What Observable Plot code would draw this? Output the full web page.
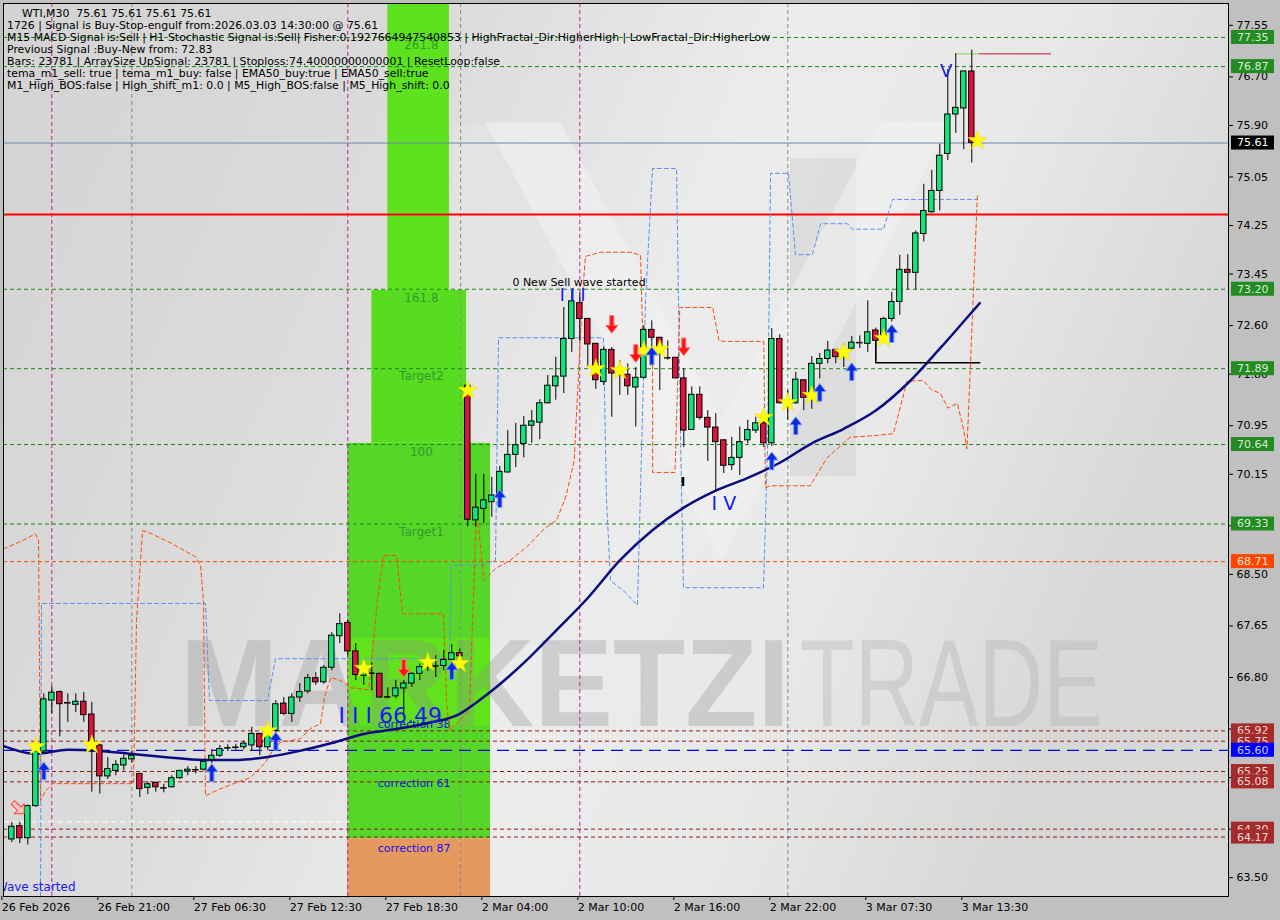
<!DOCTYPE html>
<html><head><meta charset="utf-8">
<script src="https://cdn.jsdelivr.net/npm/d3@7"></script>
<script src="https://cdn.jsdelivr.net/npm/@observablehq/plot@0.6"></script>
<style>
html,body{margin:0;padding:0;background:#c0c0c0;}
#chart{width:1280px;height:920px;}
</style></head><body><div id="chart"></div>
<script>
// ---------- DATA ----------
const opens  = [64.13,64.35,64.15,64.68,65.58,66.42,66.56,66.37,66.35,66.40,66.19,65.68,65.17,65.26,65.35,65.45,65.21,64.98,65.06,64.98,64.99,65.14,65.25,65.28,65.28,65.44,65.51,65.64,65.65,65.65,65.68,65.87,65.65,65.92,66.37,66.20,66.47,66.57,66.79,66.72,66.96,67.48,67.70,67.23,66.83,66.87,66.86,66.48,66.49,66.62,66.70,66.86,66.97,66.99,66.99,67.09,67.20,71.61,69.39,69.58,69.69,69.78,70.18,70.47,70.65,70.95,71.00,71.32,71.60,71.76,72.38,72.97,72.71,72.30,71.67,72.20,71.84,71.79,71.58,71.74,72.53,72.40,72.07,72.07,71.73,70.88,71.46,71.08,70.92,70.71,70.30,70.42,70.71,70.87,70.99,70.66,72.38,71.32,71.32,71.70,71.42,71.97,72.05,72.20,72.12,72.22,72.32,72.30,72.52,72.44,72.71,72.99,73.52,73.47,74.11,74.47,74.82,75.43,76.08,76.18,76.79];
const highs  = [64.41,64.41,64.70,65.63,66.53,66.65,66.58,66.53,66.53,66.55,66.39,65.70,65.48,65.43,65.53,65.59,65.22,65.08,65.08,65.04,65.18,65.27,65.33,65.33,65.45,65.61,65.68,65.69,65.70,65.75,65.98,65.88,65.93,66.42,66.47,66.53,66.70,66.85,66.88,67.00,67.54,67.85,67.74,67.36,67.08,67.04,66.87,66.63,66.75,66.75,66.88,67.02,67.10,67.16,67.25,67.34,67.27,71.65,70.15,70.15,70.10,70.28,70.87,70.99,71.10,71.20,71.38,71.78,72.08,72.90,73.18,73.13,72.72,72.30,72.24,72.24,72.02,71.97,71.91,72.60,72.68,72.40,72.35,72.07,71.89,71.59,71.59,71.20,71.15,70.71,70.76,70.93,71.04,71.09,71.15,72.55,72.45,71.53,71.83,71.70,72.09,72.14,72.34,72.21,72.30,72.42,72.43,73.01,72.56,72.74,73.15,73.76,73.77,74.16,74.93,75.16,75.59,76.82,77.08,76.79,77.14];
const lows   = [64.08,64.06,64.04,64.66,65.55,66.20,65.82,66.06,66.22,66.06,64.91,64.88,65.12,65.18,65.26,65.39,64.82,64.87,64.91,64.90,64.98,65.12,65.18,65.21,65.26,65.38,65.48,65.58,65.60,65.61,65.59,65.51,65.59,65.87,66.17,66.06,66.39,66.53,66.67,66.69,66.91,67.36,67.16,66.75,66.67,66.58,66.46,66.45,66.45,66.14,66.64,66.75,66.90,66.80,66.91,66.97,67.02,69.28,69.28,69.34,69.44,69.72,70.17,70.26,70.42,70.66,70.72,71.31,71.37,71.48,72.16,72.35,71.91,71.55,71.61,71.09,71.45,71.45,70.93,71.72,72.24,71.53,72.03,71.73,70.59,70.87,71.04,70.36,69.88,70.16,70.21,70.13,70.65,70.82,70.59,70.61,71.31,71.04,71.31,71.20,71.22,71.72,71.97,71.97,71.91,72.19,72.22,72.16,72.01,72.35,72.66,72.77,73.19,73.19,73.98,74.45,74.49,75.32,75.77,75.50,75.28];
const closes = [64.34,64.15,64.68,65.58,66.44,66.55,66.36,66.38,66.40,66.18,65.68,65.17,65.29,65.36,65.46,65.51,64.96,65.04,64.99,64.98,65.14,65.26,65.28,65.28,65.41,65.51,65.62,65.64,65.65,65.71,65.87,65.65,65.87,66.36,66.20,66.47,66.56,66.79,66.72,66.96,67.49,67.68,67.23,66.84,66.95,66.87,66.47,66.48,66.62,66.70,66.86,66.97,66.99,66.99,67.09,67.20,67.15,69.40,69.60,69.72,69.80,70.19,70.47,70.63,70.95,71.02,71.32,71.61,71.76,72.38,73.00,72.71,72.29,71.70,72.20,71.81,71.81,71.60,71.74,72.53,72.40,72.14,72.07,71.73,70.87,71.46,71.08,70.92,70.68,70.29,70.42,70.68,70.88,70.99,70.66,72.38,71.32,71.35,71.71,71.41,71.97,72.05,72.19,72.08,72.15,72.32,72.32,72.49,72.35,72.71,72.99,73.52,73.47,74.12,74.49,74.82,75.40,76.08,76.19,76.79,75.61];

// EMA (bar index, value)
const emaBars = [-1,3,7,11,15,19,24,28,32,36,40,44,48,52,56,58,60,64,68,72,76,80,84,88,92,96,100,104,108,112,116,120,121];
const emaVals = [65.67,65.54,65.61,65.59,65.54,65.49,65.44,65.44,65.49,65.59,65.72,65.87,65.95,66.05,66.20,66.38,66.58,67.04,67.57,68.11,68.73,69.22,69.60,69.88,70.09,70.34,70.66,70.90,71.20,71.65,72.22,72.82,72.97];

// x-axis ticks (bar index -> label)
const xTickBars   = [-1,11,23,35,47,59,71,83,95,107,119];
const xTickLabels = ["26 Feb 2026","26 Feb 21:00","27 Feb 06:30","27 Feb 12:30","27 Feb 18:30","2 Mar 04:00","2 Mar 10:00","2 Mar 16:00","2 Mar 22:00","3 Mar 07:30","3 Mar 13:30"];
// y-axis ticks
const yTicks = [77.55,76.70,75.90,75.05,74.25,73.45,72.60,71.80,70.95,70.15,69.30,68.50,67.65,66.80,65.95,65.15,64.30,63.50];

// level lines
const greenLevels = [77.35,76.87,73.20,71.89,70.64,69.33];
const brownLevels = [65.92,65.75,65.25,65.08,64.30,64.17];
const stopLevel = 74.43;
const bidLevel = 75.61;
const orangeLevel = 68.71;
const blueLevel = 65.60;

// right price boxes
const boxValues = [77.35,76.87,75.61,73.20,71.89,70.64,69.33,68.71,65.92,65.75,65.60,65.25,65.08,64.30,64.17];
const boxKinds  = ["g","g","k","g","g","g","g","o","b","b","u","b","b","b","b"];

// vertical separators (bar index)
const magentaBars = [5,42,71];
const grayBars = [15,56.1,97];

// fibo zones [bar1, bar2, price1, price2]
const fibZoneBars1 = [47,45,42,42];
const fibZoneBars2 = [54.7,56.85,59.85,59.85];
const fibZoneLow   = [73.18,70.66,64.14,63.0];
const fibZoneHigh  = [78.5,73.18,70.66,64.14];
const fibZoneFill  = ["#5ce21e","#58dc20","#55d628","#e5995f"];
const fibLabelText = ["261.8","161.8","Target2","100","Target1"];
const fibLabelPrice= [77.22,73.06,71.76,70.51,69.19];
const corrLabelText = ["correction 38","correction 61","correction 87"];
const corrLabelPrice= [66.02,65.05,63.98];

// markers
const starBars  = [3,10,32,44,52,56,57,73,76,79,81,94,97,100,104,109,120.7];
const starPrice = [65.66,65.69,65.92,66.95,67.05,67.03,71.53,71.89,71.86,72.19,72.21,71.09,71.33,71.45,72.16,72.39,75.65];
const upBars  = [4,25,33,55,61,80,95,98,101,105,110];
const upPrice = [65.26,65.23,65.75,66.91,69.75,72.10,70.37,70.95,71.50,71.84,72.47];
const dnBars  = [49,75,78,84];
const dnPrice = [66.95,72.62,72.14,72.25];

// wave labels
const waveText  = ["I I I","I V","V","I I I 66.49"];
const waveBars  = [70.1,89.0,116.8,47.3];
const wavePrice = [73.10,69.66,76.80,66.16];
const waveSize  = [17,19,18,22];

// indicator bands (bar index, price)
const orangeBandBars = [-1.04,1.09,2.96,3.34,3.59,4.21,5.09,15.21,15.59,16.34,16.96,19.84,22.96,23.59,23.96,24.21,25.46,27.71,29.84,31.71,32.59,33.59,36.09,37.34,38.59,39.09,39.84,41.09,42.34,44.59,45.09,45.71,46.46,48.09,48.84,53.96,54.34,54.71,57.2,57.6,58.1,59.0,60.5,62.3,64.5,66.7,68.1,69.3,70.3,70.8,71.3,71.7,73.6,77.4,78.6,78.9,80.1,80.1,82.9,83.5,83.6,87.6,88.4,89.1,94.0,94.2,94.8,99.8,101.9,104.8,108.2,110.2,111.9,113.9,114.9,116.1,117.0,118.2,119.0,119.4,120.7];
const orangeBandVals = [68.92,69.04,69.17,69.06,64.77,64.93,65.05,65.05,67.74,69.22,69.20,69.02,68.79,68.64,68.07,64.85,64.93,65.05,65.15,65.40,65.59,65.73,65.79,65.96,66.04,66.47,66.80,66.75,66.63,66.60,67.24,68.07,68.81,68.81,67.85,67.85,66.42,65.92,66.25,67.74,69.60,68.40,68.60,68.73,68.97,69.27,69.39,69.80,70.38,71.70,73.01,73.74,73.81,73.81,73.76,72.20,72.20,70.18,70.18,72.90,72.90,72.90,72.35,72.34,72.34,69.93,69.96,69.96,70.42,70.76,70.79,70.82,71.68,71.70,71.55,71.48,71.24,71.32,70.87,70.57,74.75];
const blueBandBars = [3.59,3.71,24.21,24.71,31.96,32.96,54.71,54.96,58.59,60.46,60.84,73.96,74.34,74.84,76.71,78.21,79.21,80.09,83.09,83.59,83.96,93.96,94.46,94.84,97.09,97.96,100.09,101.09,104.46,105.09,108.96,110.09,120.71];
const blueBandVals = [63.19,68.02,68.02,66.42,66.42,67.11,67.11,68.65,68.65,68.73,72.40,72.40,69.72,68.40,68.20,67.99,73.01,75.19,75.19,70.76,68.28,68.28,70.54,75.11,75.11,73.77,73.77,74.28,74.28,74.19,74.19,74.68,74.68];

// header text
const headerTitle = "WTI,M30  75.61 75.61 75.61 75.61";
const headerLines = [
 "1726 | Signal is Buy-Stop-engulf from:2026.03.03 14:30:00 @ 75.61",
 "M15 MACD Signal is:Sell | H1 Stochastic Signal is:Sell| Fisher:0.1927664947540853 | HighFractal_Dir:HigherHigh | LowFractal_Dir:HigherLow",
 "Previous Signal :Buy-New from: 72.83",
 "Bars: 23781 | ArraySize UpSignal: 23781 | Stoploss:74.40000000000001 | ResetLoop:false",
 "tema_m1_sell: true | tema_m1_buy: false | EMA50_buy:true | EMA50_sell:true",
 "M1_High_BOS:false | High_shift_m1: 0.0 | M5_High_BOS:false | M5_High_shift: 0.0"
];

// ---------- BUILD ----------
const FONT = "DejaVu Sans";
const candles = opens.map((o,i)=>({i,o,h:highs[i],l:lows[i],c:closes[i]}));
const bodies = candles.filter(d=>d.o!==d.c);
const dojis = candles.filter(d=>d.o===d.c);
const ema = emaBars.map((b,k)=>({i:b,p:emaVals[k]}));
const zones = fibZoneBars1.map((b,k)=>({x1:b,x2:fibZoneBars2[k],y1:fibZoneLow[k],y2:fibZoneHigh[k],f:fibZoneFill[k]}));
const stars = starBars.map((b,k)=>({i:b,p:starPrice[k]}));
const ups = upBars.map((b,k)=>({i:b,p:upPrice[k]}));
const dns = dnBars.map((b,k)=>({i:b,p:dnPrice[k]}));
const waves = waveText.map((t,k)=>({t,i:waveBars[k],p:wavePrice[k],s:waveSize[k]}));
const orangeBand = orangeBandBars.map((b,k)=>({i:b,p:orangeBandVals[k]}));
const blueBand = blueBandBars.map((b,k)=>({i:b,p:blueBandVals[k]}));
const fibLabels = fibLabelText.map((t,k)=>({t,p:fibLabelPrice[k]}));
const corrLabels = corrLabelText.map((t,k)=>({t,p:corrLabelPrice[k]}));
const tickLabelMap = new Map(xTickBars.map((b,k)=>[b,xTickLabels[k]]));
const boxColors = {g:["#228b22","#d8ecd8"],k:["#000000","#ffffff"],o:["#ff4500","#ffe8d8"],b:["#a52a2a","#f0d8d8"],u:["#0000ff","#c8c8ff"]};

const arrowUp = {draw(ctx,size){const s=Math.sqrt(size);const h=s*0.72,w=s*0.5,sw=s*0.17;
  ctx.moveTo(0,-h);ctx.lineTo(w,-h*0.1);ctx.lineTo(sw,-h*0.1);ctx.lineTo(sw,h);ctx.lineTo(-sw,h);ctx.lineTo(-sw,-h*0.1);ctx.lineTo(-w,-h*0.1);ctx.closePath();}};
const arrowDn = {draw(ctx,size){const s=Math.sqrt(size);const h=s*0.72,w=s*0.5,sw=s*0.17;
  ctx.moveTo(0,h);ctx.lineTo(w,h*0.1);ctx.lineTo(sw,h*0.1);ctx.lineTo(sw,-h);ctx.lineTo(-sw,-h);ctx.lineTo(-sw,h*0.1);ctx.lineTo(-w,h*0.1);ctx.closePath();}};

function background(index, scales, values, dims){
  const g = d3.create("svg:g");
  const defs = g.append("defs");
  const lg = defs.append("linearGradient").attr("id","bgGrad").attr("x1","0").attr("x2","1").attr("y1","0").attr("y2","0.3");
  [["0%","#d3d3d3"],["35%","#dcdcdc"],["60%","#ececec"],["80%","#e8e8e8"],["100%","#d8d8d8"]].forEach(([o,c])=>lg.append("stop").attr("offset",o).attr("stop-color",c));
  const x0=dims.marginLeft, y0=dims.marginTop, w=dims.width-dims.marginLeft-dims.marginRight, h=dims.height-dims.marginTop-dims.marginBottom;
  g.append("rect").attr("x",x0).attr("y",y0).attr("width",w).attr("height",h).attr("fill","url(#bgGrad)");
  g.append("rect").attr("x",452).attr("y",125).attr("width",108).attr("height",520).attr("fill","#e6e6e6").attr("opacity",0.55);
  g.append("rect").attr("x",790).attr("y",158).attr("width",66).attr("height",318).attr("fill","#cfcfcf").attr("opacity",0.45);
  g.append("path").attr("d","M485,122 L560,122 L722,420 L880,122 L950,122 L722,560 Z").attr("fill","#f4f4f4").attr("opacity",0.5);
  return g.node();
}
function watermark(index, scales, values, dims){
  const g = d3.create("svg:g").attr("text-anchor","start");
  g.append("text").attr("x",180).attr("y",726).attr("font-family","Liberation Sans").attr("font-weight","bold").attr("font-size",124)
    .attr("textLength",610).attr("lengthAdjust","spacingAndGlyphs").attr("fill","#8c8c8c").attr("opacity",0.3).text("MARKETZI");
  g.append("text").attr("x",800).attr("y",726).attr("font-family","Liberation Sans").attr("font-size",124)
    .attr("textLength",303).attr("lengthAdjust","spacingAndGlyphs").attr("fill","#a8a8a8").attr("opacity",0.3).text("TRADE");
  return g.node();
}
function header(index, scales, values, dims){
  const g = d3.create("svg:g").attr("font-family",FONT).attr("font-size",10.9).attr("fill","#000").attr("text-anchor","start");
  g.append("text").attr("x",22).attr("y",17).text(headerTitle);
  headerLines.forEach((t,k)=>g.append("text").attr("x",7).attr("y",29+12*k).text(t));
  return g.node();
}
function priceBoxes(index, scales, values, dims){
  const g = d3.create("svg:g").attr("font-family",FONT).attr("font-size",11).attr("text-anchor","start");
  boxValues.forEach((v,k)=>{
    const yy = scales.y(v), [bg,fg] = boxColors[boxKinds[k]];
    g.append("rect").attr("x",1231).attr("y",yy-7).attr("width",43).attr("height",14).attr("fill",bg);
    g.append("text").attr("x",1237).attr("y",yy).attr("dy","0.36em").attr("fill",fg).text(v.toFixed(2));
  });
  return g.node();
}
function outlineArrow(index, scales){
  const g = d3.create("svg:g");
  const cx = scales.x(0.9), cy = scales.y(64.64);
  g.append("path").attr("transform",`translate(${cx},${cy}) rotate(-45)`)
   .attr("d","M0,8 L7,1 L2.5,1 L2.5,-8 L-2.5,-8 L-2.5,1 L-7,1 Z").attr("fill","#f4c8c0").attr("stroke","#ff4040").attr("stroke-width",1);
  return g.node();
}

const chart = Plot.plot({
  width:1280, height:920,
  marginLeft:3, marginRight:52, marginTop:3, marginBottom:24,
  style:{fontFamily:FONT, fontSize:"11px", background:"#c0c0c0", color:"#000"},
  x:{type:"linear", domain:[-1.04,152.09]},
  y:{type:"linear", domain:[63.19,77.91]},
  marks:[
    background,
    Plot.rect(zones,{x1:"x1",x2:"x2",y1:"y1",y2:"y2",fill:"f",clip:true}),
    Plot.rect([0],{x1:42,x2:59.85,y1:66.0,y2:67.45,fill:"#6aee10",opacity:0.55,clip:true}),
    watermark,
    Plot.text(fibLabels,{x:51.2,y:"p",text:"t",fill:"#2f8f2f",fontSize:12,opacity:0.85}),
    Plot.text(corrLabels,{x:50.3,y:"p",text:"t",fill:"#1414e6",fontSize:11}),
    Plot.ruleX(magentaBars,{stroke:"#c0209a",strokeDasharray:"4,3",strokeWidth:1}),
    Plot.ruleX(grayBars,{stroke:"#8a8a8a",strokeDasharray:"4,3",strokeWidth:1}),
    Plot.ruleY(greenLevels,{stroke:"#178a17",strokeDasharray:"4,3"}),
    Plot.ruleY(brownLevels,{stroke:"#8e1c1c",strokeDasharray:"4,3"}),
    Plot.ruleY([orangeLevel],{stroke:"#ff4500",strokeDasharray:"4,3"}),
    Plot.ruleY([blueLevel],{stroke:"#0000ee",strokeDasharray:"12,7",strokeWidth:1.3}),
    Plot.ruleY([64.42],{x1:-1.04,x2:42.3,stroke:"#ffffff",strokeDasharray:"6,3"}),
    Plot.ruleY([bidLevel],{stroke:"#6f87a3"}),
    Plot.ruleY([stopLevel],{stroke:"#ff0000",strokeWidth:2}),
    Plot.line(blueBand,{x:"i",y:"p",stroke:"#5b8ff0",strokeDasharray:"4,3",strokeWidth:1,clip:true}),
    Plot.line(orangeBand,{x:"i",y:"p",stroke:"#ff4a0a",strokeDasharray:"4,3",strokeWidth:1,clip:true}),
    Plot.line(ema,{x:"i",y:"p",stroke:"#0b0b82",strokeWidth:2.5,curve:"monotone-x",clip:true}),
    Plot.line([{i:108,p:72.35},{i:108,p:71.99},{i:121,p:71.99}],{x:"i",y:"p",stroke:"#000"}),
    Plot.ruleY([77.08],{x1:117.96,x2:120.96,stroke:"#7fdc3c"}),
    Plot.ruleY([77.08],{x1:120.96,x2:129.96,stroke:"#d0103a"}),
    Plot.ruleX(candles,{x:"i",y1:"l",y2:"h",stroke:"#000",strokeWidth:1,clip:true}),
    Plot.rect(bodies,{x1:d=>d.i-0.34,x2:d=>d.i+0.34,y1:"o",y2:"c",fill:d=>d.c>d.o?"#0ee67e":"#dc143c",stroke:"#000",strokeWidth:1,clip:true}),
    Plot.ruleY(dojis,{y:"o",x1:d=>d.i-0.4,x2:d=>d.i+0.4,stroke:"#000",strokeWidth:1.5}),
    outlineArrow,
    Plot.dot(stars,{x:"i",y:"p",symbol:"star",r:6,fill:"#ffff00",stroke:"#e8d800",strokeWidth:0.5}),
    Plot.dot(ups,{x:"i",y:"p",symbol:arrowUp,r:7,fill:"#0a2ae0",stroke:"#7aa0ff",strokeWidth:1}),
    Plot.dot(dns,{x:"i",y:"p",symbol:arrowDn,r:7,fill:"#ff1414",stroke:"#ff8080",strokeWidth:1}),
    Plot.text(waves,{x:"i",y:"p",text:"t",fill:"#1a1af0",fontSize:"s"}),
    Plot.text([0],{x:70.9,y:73.31,text:()=>"0 New Sell wave started",fill:"#000",fontSize:11}),
    Plot.text([0],{x:83.9,y:70.02,text:()=>"I",fill:"#000",fontSize:13,fontWeight:"bold"}),
    Plot.text([0],{x:-2.0,y:63.34,text:()=>"Wave started",fill:"#1a1af0",fontSize:12,textAnchor:"start",clip:true}),
    Plot.frame({stroke:"#000"}),
    Plot.axisY({anchor:"right",ticks:yTicks,tickFormat:d=>d.toFixed(2),tickSize:4,tickPadding:4,label:null}),
    Plot.axisX({anchor:"bottom",ticks:xTickBars,tickFormat:d=>tickLabelMap.get(d),textAnchor:"start",tickSize:4,tickPadding:3,dx:-2,label:null}),
    priceBoxes,
    header
  ]
});
document.getElementById("chart").appendChild(chart);
</script></body></html>
